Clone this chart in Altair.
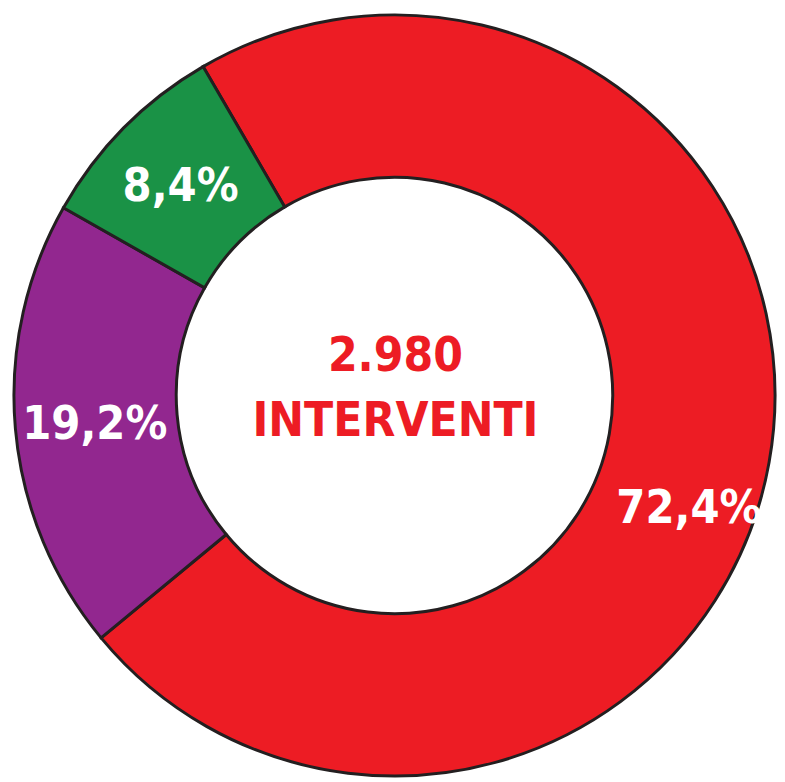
import math
import altair as alt
import pandas as pd

# data
segments = ["rosso", "viola", "verde"]
shares = [72.4, 19.2, 8.4]
labels = ["72,4%", "19,2%", "8,4%"]
colors = ["#ED1C24", "#92278F", "#1A9246"]
total_text = "2.980"
total_caption = "INTERVENTI"

df = pd.DataFrame({"segment": segments, "share": shares, "label": labels,
                   "order": list(range(len(segments)))})

start = math.radians(-30.2)
CX, CY = 390.5, 387.5
FONT = "'Liberation Sans Narrow', 'DejaVu Sans Condensed', 'Arial Narrow', sans-serif"

theta_scale = alt.Scale(domain=[0, sum(shares)],
                        range=[start, start + 2 * math.pi])

arcs = alt.Chart(df).mark_arc(outerRadius=384.5, innerRadius=220.5,
                              stroke="#231F20", strokeWidth=3).encode(
    theta=alt.Theta("share:Q", stack=True, scale=theta_scale),
    order=alt.Order("order:Q"),
    color=alt.Color("segment:N",
                    scale=alt.Scale(domain=segments, range=colors),
                    legend=None),
    x=alt.value(CX),
    y=alt.value(CY),
)

label_base = alt.Chart(df).transform_window(
    cum="sum(share)", sort=[alt.SortField("order")]
).transform_calculate(
    mid="datum.cum - datum.share / 2"
).encode(
    theta=alt.Theta("mid:Q", scale=theta_scale),
    text="label:N",
    x=alt.value(CX),
    y=alt.value(CY),
)

small_labels = label_base.transform_filter(alt.datum.segment != "rosso").mark_text(
    radius=304, dy=3, font=FONT, fontSize=47, fontWeight="bold", color="white",
    align="center", baseline="middle"
)

red_label = label_base.transform_filter(alt.datum.segment == "rosso").mark_text(
    radius=318, thetaOffset=0.185, dy=2, font=FONT, fontSize=47, fontWeight="bold",
    color="white", align="center", baseline="middle"
)

center_df = pd.DataFrame({"t": [total_text, total_caption], "row": [0, 1]})
center = alt.Chart(center_df).mark_text(
    font=FONT, fontSize=48, fontWeight="bold", color="#ED1C24",
    align="center", baseline="middle"
).encode(
    text="t:N",
    x=alt.value(CX + 1),
    y=alt.Y("row:Q", scale=alt.Scale(domain=[0, 1], range=[CY - 39, CY + 27]),
            axis=None),
)

chart = alt.layer(arcs, small_labels, red_label, center).properties(
    width=777, height=774,
    autosize=alt.AutoSizeParams(type="none"),
    padding=0,
).configure_view(stroke=None)

chart.save("out.html", embed_options={"renderer": "svg", "actions": False})
